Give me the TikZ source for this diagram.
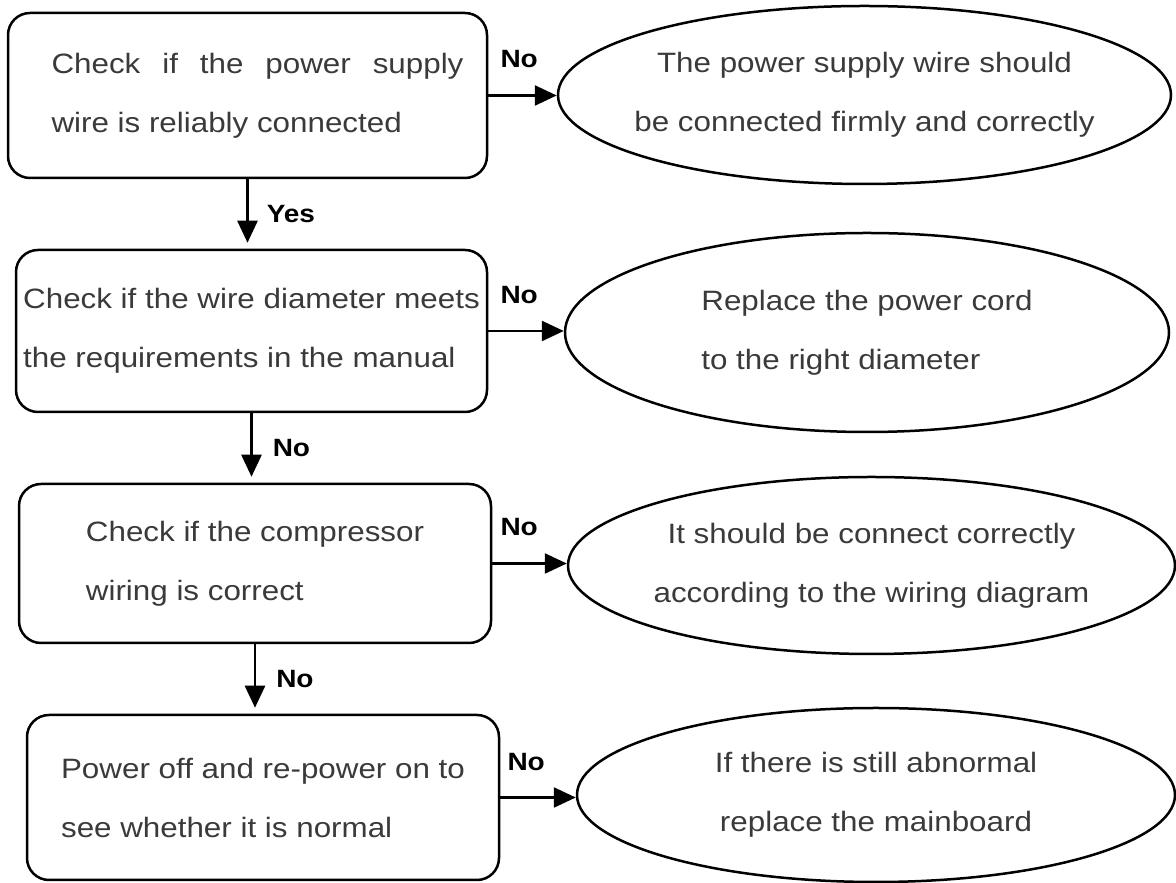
\documentclass[tikz,border=0pt]{standalone}
\usepackage{fontspec}
\setmainfont{Liberation Sans}[FakeStretch=1.12]
\usetikzlibrary{shapes.geometric,arrows.meta}

\definecolor{txtgray}{HTML}{3A3A3A}

\tikzset{
    paso/.style={draw, rounded corners=22pt, line width=2.5pt, inner sep=0pt,
        align=left, text=txtgray, font=\fontsize{28}{59}\selectfont},
    salida/.style={draw, ellipse, line width=2.5pt, inner sep=0pt},
    saltxt/.style={text=txtgray, align=center, font=\fontsize{28}{59}\selectfont},
    flecha/.style={line width=2.5pt, -{Triangle[length=22pt,width=20pt]}},
    etiq/.style={inner sep=0pt, font=\fontsize{25}{30}\selectfont\bfseries},
}

\begin{document}
\begin{tikzpicture}[x=1pt,y=1pt] %Diagrama de fallas de alimentacion
            \useasboundingbox (0,0) rectangle (1176,883);

            \node[paso, minimum width=479pt, minimum height=165pt] (check1) at (247.5,787.5)
                {\hspace*{20pt}\makebox[412pt][s]{Check if the power supply}\\\hspace*{20pt}wire is reliably connected};
            \node[paso, minimum width=471pt, minimum height=162pt] (check2) at (251.5,552)
                {Check if the wire diameter meets\\the requirements in the manual};
            \node[paso, minimum width=472pt, minimum height=159pt] (check3) at (255,319.5)
                {Check if the compressor\\wiring is correct};
            \node[paso, minimum width=472pt, minimum height=165pt] (check4) at (263,85.5)
                {Power off and re-power on to\\see whether it is normal};

            \node[salida, minimum width=613pt, minimum height=178pt] (fix1) at (864.5,788) {};
            \node[salida, minimum width=604pt, minimum height=199pt] (fix2) at (867,550.5) {};
            \node[salida, minimum width=607pt, minimum height=177pt] (fix3) at (871.5,317.5) {};
            \node[salida, minimum width=598pt, minimum height=174pt] (fix4) at (876,88) {};

            \node[saltxt] (fix1txt) at (fix1) {The power supply wire should\\be connected firmly and correctly};
            \node[saltxt, align=left] (fix2txt) at (fix2) {Replace the power cord\\to the right diameter};
            \node[saltxt] (fix3txt) at (fix3) {It should be connect correctly\\according to the wiring diagram};
            \node[saltxt] (fix4txt) at (fix4) {If there is still abnormal\\replace the mainboard};

            \draw[flecha] (check1.east) -- (check1.east -| fix1.west)
                node[etiq, pos=0, anchor=south west, xshift=11pt, yshift=26pt] {No};
            \draw[flecha] (check2.east) -- (check2.east -| fix2.west)
                node[etiq, pos=0, anchor=south west, xshift=11pt, yshift=26pt] {No};
            \draw[flecha] (check3.east) -- (check3.east -| fix3.west)
                node[etiq, pos=0, anchor=south west, xshift=7pt, yshift=26pt] {No};
            \draw[flecha] (check4.east) -- (check4.east -| fix4.west)
                node[etiq, pos=0, anchor=south west, xshift=6pt, yshift=26pt] {No};

            \draw[flecha, shorten >=6pt] (check1.south) -- (check1.south |- check2.north)
                node[etiq, midway, anchor=west, xshift=18pt] {Yes};
            \draw[flecha, shorten >=6pt] (check2.south) -- (check2.south |- check3.north)
                node[etiq, midway, anchor=west, xshift=20pt] {No};
            \draw[flecha, shorten >=6pt] (check3.south) -- (check3.south |- check4.north)
                node[etiq, midway, anchor=west, xshift=20pt] {No};
        \end{tikzpicture}
\end{document}
